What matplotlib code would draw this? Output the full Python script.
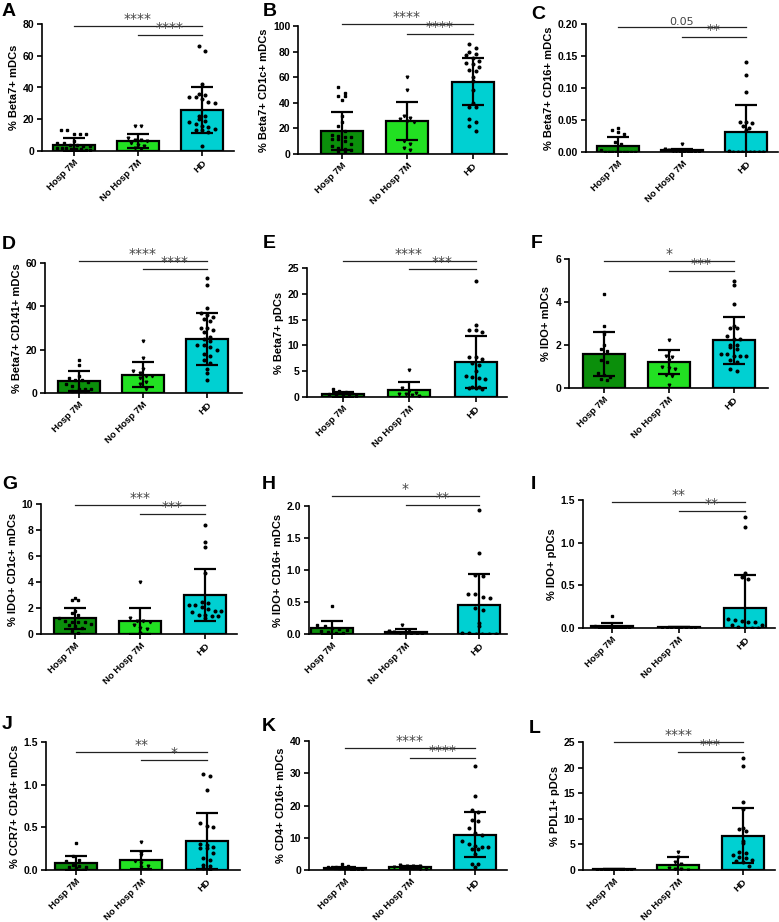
import numpy as np
import matplotlib
matplotlib.use("Agg")
import matplotlib.pyplot as plt

plt.rcParams['font.family'] = ['Liberation Sans', 'DejaVu Sans']

groups = ["Hosp 7M", "No Hosp 7M", "HD"]
colors = ["#0b8f0b", "#22e022", "#00d0d2"]
markers = ["s", "v", "o"]

# A: Beta7+ mDCs
a_mean = [4.0, 6.5, 26.0]
a_sd = [4.2, 4.3, 14.4]
a_hosp = [13, 13, 11, 11, 11, 6, 5, 5, 4, 4, 3, 3, 2, 2, 2, 1, 1, 1, 0.5, 0.5]
a_nohosp = [16, 16, 8, 7, 7, 6, 5, 4, 3, 2, 1]
a_hd = [66, 63, 42, 36, 35, 34, 34, 33, 31, 30, 22, 22, 20, 19, 18, 17, 16, 15, 14, 13, 13, 12, 3]

# B: Beta7+ CD1c+ mDCs
b_mean = [18.0, 26.0, 56.5]
b_sd = [15.0, 15.0, 18.5]
b_hosp = [52, 48, 45, 45, 42, 30, 25, 22, 18, 15, 14, 13, 13, 12, 12, 10, 8, 6, 5, 4, 3, 2, 2]
b_nohosp = [60, 50, 30, 28, 27, 26, 25, 10, 8, 5, 3]
b_hd = [86, 83, 80, 78, 77, 75, 73, 71, 70, 68, 66, 65, 60, 57, 50, 40, 37, 37, 27, 25, 22, 18]

# C: Beta7+ CD16+ mDCs
c_mean = [0.009, 0.003, 0.032]
c_sd = [0.015, 0.002, 0.042]
c_hosp = [0.037, 0.034, 0.032, 0.028, 0.015, 0.012, 0.003, 0, 0, 0, 0, 0, 0, 0, 0, 0]
c_nohosp = [0.013, 0.004, 0.003, 0.002, 0.001, 0, 0, 0, 0, 0, 0]
c_hd = [0.14, 0.12, 0.093, 0.047, 0.047, 0.046, 0.04, 0.037, 0.035, 0.002, 0, 0, 0, 0, 0, 0, 0, 0]

# D: Beta7+ CD141+ mDCs
d_mean = [5.5, 8.5, 25.0]
d_sd = [4.8, 5.8, 12.0]
d_hosp = [15, 13, 8, 7, 6, 6, 5, 4, 3, 2, 2, 2, 1, 1, 1]
d_nohosp = [24, 16, 11, 10, 9, 8, 8, 7, 5, 4, 2]
d_hd = [53, 50, 39, 37, 36, 35, 34, 33, 30, 30, 29, 28, 26, 25, 24, 22, 22, 21, 20, 18, 17, 15, 14, 11, 9, 6]

# E: Beta7+ pDCs
e_mean = [0.5, 1.3, 6.8]
e_sd = [0.45, 1.6, 5.1]
e_hosp = [1.5, 1.2, 1.0, 0.8, 0.5, 0.3, 0.2, 0.1, 0.1]
e_nohosp = [5.3, 1.8, 1.2, 0.8, 0.6, 0.5, 0.3, 0.2]
e_hd = [22.5, 14, 13, 13, 12.5, 7.8, 7.7, 7.4, 6.5, 6.2, 5, 4, 3.8, 3.6, 3.5, 2, 2, 1.8, 1.7, 1.5]

# F: IDO+ mDCs
f_mean = [1.57, 1.2, 2.22]
f_sd = [1.03, 0.55, 1.1]
f_hosp = [4.35, 2.9, 2.6, 2.5, 2.0, 1.8, 1.7, 1.3, 1.2, 0.7, 0.6, 0.5, 0.4, 0.35]
f_nohosp = [2.25, 1.7, 1.5, 1.45, 1.3, 1.0, 0.95, 0.9, 0.6, 0.55, 0.15]
f_hd = [5.0, 4.8, 3.9, 2.9, 2.8, 2.8, 2.4, 2.3, 2.3, 2.0, 2.0, 1.9, 1.8, 1.6, 1.6, 1.5, 1.5, 1.5, 1.3, 1.2, 0.9, 0.8]

# G: IDO+ CD1c+ mDCs
g_mean = [1.2, 1.0, 3.0]
g_sd = [0.82, 1.0, 2.0]
g_hosp = [2.8, 2.6, 2.6, 1.8, 1.6, 1.5, 1.2, 1.0, 0.9, 0.9, 0.9, 0.8, 0.7, 0.6, 0.5, 0.2, 0.1]
g_nohosp = [4.0, 1.2, 1.0, 1.0, 0.9, 0.7, 0.5, 0.4, 0.1]
g_hd = [8.4, 7.1, 6.7, 4.7, 2.5, 2.4, 2.2, 2.2, 2.1, 1.9, 1.8, 1.8, 1.7, 1.5, 1.5, 1.4, 1.4, 1.2]

# H: IDO+ CD16+ mDCs
h_mean = [0.09, 0.025, 0.46]
h_sd = [0.11, 0.05, 0.48]
h_hosp = [0.43, 0.14, 0.12, 0.1, 0.08, 0.07, 0.05, 0.03, 0.02, 0.01]
h_nohosp = [0.14, 0.06, 0.04, 0.03, 0.02, 0.01, 0, 0, 0]
h_hd = [1.94, 1.26, 0.92, 0.9, 0.63, 0.62, 0.58, 0.56, 0.4, 0.37, 0.17, 0.13, 0.02, 0.01, 0, 0, 0, 0]

# I: IDO+ pDCs
i_mean = [0.025, 0.01, 0.24]
i_sd = [0.035, 0.001, 0.38]
i_hosp = [0.14, 0.02, 0.01, 0.01, 0.005, 0, 0, 0, 0, 0, 0, 0]
i_nohosp = [0, 0, 0, 0, 0, 0, 0, 0]
i_hd = [1.3, 1.18, 0.65, 0.6, 0.58, 0.1, 0.09, 0.08, 0.07, 0.07, 0.04, 0.03, 0.01, 0, 0, 0]

# J: CCR7+ CD16+ mDCs
j_mean = [0.08, 0.115, 0.34]
j_sd = [0.085, 0.105, 0.33]
j_hosp = [0.32, 0.16, 0.12, 0.1, 0.06, 0.05, 0.04, 0.03, 0.02, 0.0]
j_nohosp = [0.33, 0.2, 0.18, 0.1, 0.08, 0.05, 0.03]
j_hd = [1.12, 1.1, 0.94, 0.55, 0.52, 0.5, 0.3, 0.29, 0.27, 0.26, 0.26, 0.2, 0.14, 0.12, 0.06, 0.05, 0.02, 0.01]

# K: CD4+ CD16+ mDCs
k_mean = [0.7, 0.8, 11.0]
k_sd = [0.3, 0.4, 6.9]
k_hosp = [1.8, 1.3, 1.0, 0.9, 0.8, 0.7, 0.6, 0.5, 0.4, 0.3, 0.3, 0.2]
k_nohosp = [1.4, 1.3, 1.2, 1.1, 1.0, 0.8, 0.6, 0.5, 0.3, 0.2]
k_hd = [32.3, 23, 18.5, 18, 15.5, 15.3, 13, 11.5, 11, 9, 8, 7.5, 7, 7, 6.5, 6.5, 5, 2, 1.8, 0.8]

# L: PDL1+ pDCs
l_mean = [0.1, 0.9, 6.7]
l_sd = [0.0, 1.6, 5.4]
l_hosp = [0, 0, 0, 0, 0, 0, 0, 0, 0, 0]
l_nohosp = [3.6, 2.5, 1.5, 1.2, 0.3, 0.2, 0.1, 0]
l_hd = [21.8, 20.3, 13.2, 12, 8.3, 8, 7.7, 5.7, 5.3, 3.5, 3.3, 3.0, 2.5, 2.3, 2.0, 1.8, 1.5, 0.8]

ylabels = ["% Beta7+ mDCs", "% Beta7+ CD1c+ mDCs", "% Beta7+ CD16+ mDCs",
           "% Beta7+ CD141+ mDCs", "% Beta7+ pDCs", "% IDO+ mDCs",
           "% IDO+ CD1c+ mDCs", "% IDO+ CD16+ mDCs", "% IDO+ pDCs",
           "% CCR7+ CD16+ mDCs", "% CD4+ CD16+ mDCs", "% PDL1+ pDCs"]
yticks = [[0, 20, 40, 60, 80], [0, 20, 40, 60, 80, 100], [0, 0.05, 0.10, 0.15, 0.20],
          [0, 20, 40, 60], [0, 5, 10, 15, 20, 25], [0, 2, 4, 6],
          [0, 2, 4, 6, 8, 10], [0, 0.5, 1.0, 1.5, 2.0], [0, 0.5, 1.0, 1.5],
          [0, 0.5, 1.0, 1.5], [0, 10, 20, 30, 40], [0, 5, 10, 15, 20, 25]]
ytick_fmt = ["{:.0f}", "{:.0f}", "{:.2f}", "{:.0f}", "{:.0f}", "{:.0f}",
             "{:.0f}", "{:.1f}", "{:.1f}", "{:.1f}", "{:.0f}", "{:.0f}"]
sig_labels = [("****", "****"), ("****", "****"), ("0.05", "**"),
              ("****", "****"), ("****", "***"), ("*", "***"),
              ("***", "***"), ("*", "**"), ("**", "**"),
              ("**", "*"), ("****", "****"), ("****", "***")]
# y of the two comparison lines (data units)
sig_y = [(78.7, 73.1), (101.6, 93.8), (0.195, 0.180), (60.9, 57.2),
         (26.4, 24.8), (5.9, 5.44), (9.92, 9.23), (2.16, 2.02),
         (1.477, 1.37), (1.383, 1.289), (37.8, 34.7), (25.0, 23.0)]
letters = list("ABCDEFGHIJKL")

means = [a_mean, b_mean, c_mean, d_mean, e_mean, f_mean, g_mean, h_mean, i_mean, j_mean, k_mean, l_mean]
sds = [a_sd, b_sd, c_sd, d_sd, e_sd, f_sd, g_sd, h_sd, i_sd, j_sd, k_sd, l_sd]
points = [[a_hosp, a_nohosp, a_hd], [b_hosp, b_nohosp, b_hd], [c_hosp, c_nohosp, c_hd],
          [d_hosp, d_nohosp, d_hd], [e_hosp, e_nohosp, e_hd], [f_hosp, f_nohosp, f_hd],
          [g_hosp, g_nohosp, g_hd], [h_hosp, h_nohosp, h_hd], [i_hosp, i_nohosp, i_hd],
          [j_hosp, j_nohosp, j_hd], [k_hosp, k_nohosp, k_hd], [l_hosp, l_nohosp, l_hd]]

# layout in pixels: axis left, top, right, bottom, first bar centre, last bar centre
W, H = 779, 922
layout = [(42, 24, 234, 151, 73.5, 202), (298, 26, 507, 154, 341.5, 472.5), (586, 24, 778, 152, 618, 746),
          (45, 263, 242, 393, 78.5, 207), (307, 268, 507, 397, 342.5, 475.5), (569, 259, 768, 388, 604, 733.5),
          (41, 504, 237, 634, 75, 205), (309, 506, 507, 634, 332, 479), (583, 500, 775, 628, 612, 745),
          (46, 742, 240, 870, 76, 206.5), (309, 741, 507, 870, 345, 475), (583, 742, 775, 870, 614, 742.5)]
letter_pos = [(2, 3), (263, 3), (531, 6), (2, 236), (263, 235), (531, 235),
              (2, 476), (262, 476), (531, 476), (2, 716), (262, 718), (529, 720)]


def swarm(vals, ymax, half):
    vals = np.asarray(vals, dtype=float)
    xs = np.zeros(len(vals))
    bins = np.round(vals / (0.05 * ymax)).astype(int)
    for b in np.unique(bins):
        idx = np.where(bins == b)[0]
        n = len(idx)
        step = min(0.1, 2 * half / max(n - 1, 1))
        xs[idx] = (np.arange(n) - (n - 1) / 2) * step
    return xs


fig = plt.figure(figsize=(W / 100, H / 100), dpi=100)

for p in range(12):
    l, t, r, b, c0, c2 = layout[p]
    s = (c2 - c0) / 2
    ax = fig.add_axes([l / W, 1 - b / H, (r - l) / W, (b - t) / H])
    ymax = yticks[p][-1]
    width = 42 / s
    ax.bar(range(3), means[p], width=width, color=colors, edgecolor="black", linewidth=1.6, zorder=1)
    for g in range(3):
        xs = g + swarm(points[p][g], ymax, width * 0.4)
        ax.plot(xs, points[p][g], linestyle="none", marker=markers[g], markersize=1.9,
                color="black", zorder=2)
    ax.errorbar(range(3), means[p], yerr=sds[p], fmt="none", ecolor="black",
                elinewidth=1.6, capsize=8, capthick=1.6, zorder=3)

    ax.set_xlim((l - c0) / s, (r - c0) / s)
    ax.set_ylim(0, ymax)
    ax.set_yticks(yticks[p])
    ax.set_yticklabels([ytick_fmt[p].format(v) for v in yticks[p]], fontsize=7.5, fontweight="bold")
    ax.set_xticks(range(3))
    ax.set_xticklabels(groups, rotation=45, ha="right", rotation_mode="anchor",
                       fontsize=6.8, fontweight="bold")
    ax.set_ylabel(ylabels[p], fontsize=8, fontweight="bold", labelpad=3)
    for side in ["top", "right"]:
        ax.spines[side].set_visible(False)
    for side in ["left", "bottom"]:
        ax.spines[side].set_linewidth(1.2)
    ax.tick_params(width=1.2, length=3.5, pad=2)
    ax.tick_params(axis="x", pad=1.5)

    y1, y2 = sig_y[p]
    top_lab, low_lab = sig_labels[p]
    ax.plot([0, 2], [y1, y1], color="#222222", lw=0.9, clip_on=False)
    ax.plot([1, 2], [y2, y2], color="#222222", lw=0.9, clip_on=False)
    star_fs = 8 if top_lab == "0.05" else 10
    ax.annotate(top_lab, (1, y1), xytext=(0, 0 if top_lab != "0.05" else 0.5), textcoords="offset points",
                ha="center", va="bottom", fontsize=star_fs, color="#444444", annotation_clip=False,
                family="DejaVu Sans")
    ax.annotate(low_lab, (1.5, y2), xytext=(0, 0), textcoords="offset points",
                ha="center", va="bottom", fontsize=10, color="#444444", annotation_clip=False,
                family="DejaVu Sans")

    lx, ly = letter_pos[p]
    fig.text(lx / W, 1 - ly / H, letters[p], fontsize=14, fontweight="bold", va="top", ha="left")

fig.savefig("out.png", dpi=100)
